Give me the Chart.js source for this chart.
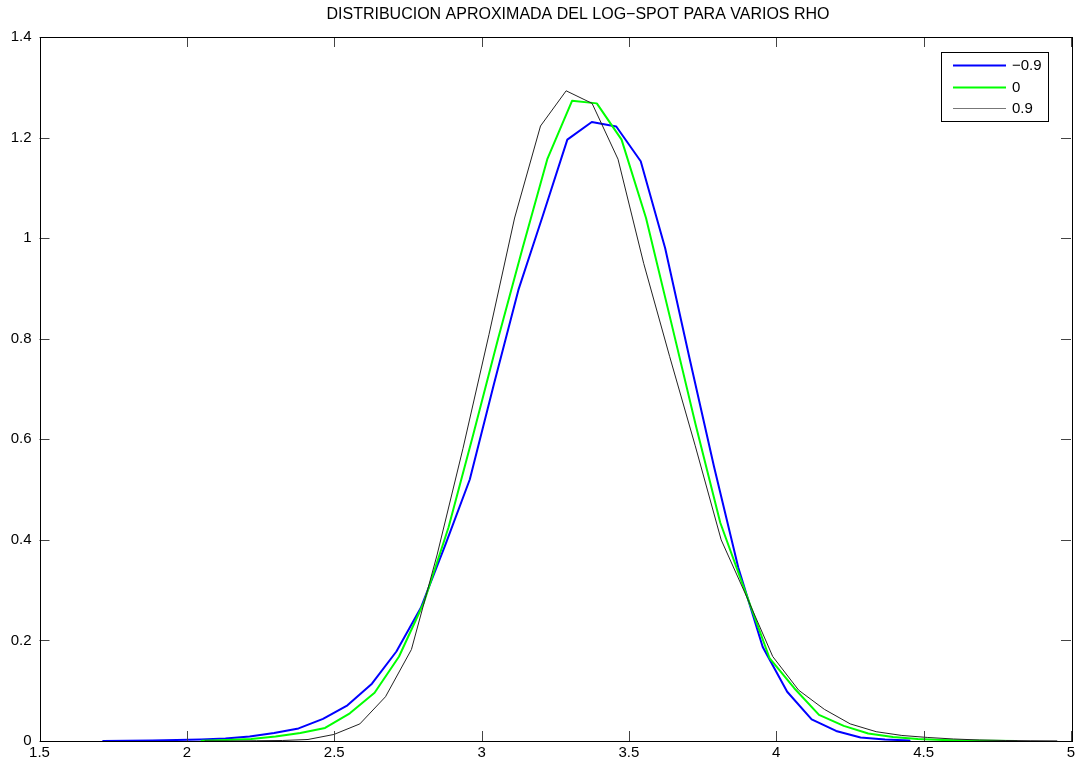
<!DOCTYPE html>
<html>
<head>
<meta charset="utf-8">
<script src="https://cdn.jsdelivr.net/npm/chart.js@4"></script>
<style>
  html, body { margin: 0; padding: 0; background: #fff; }
  #wrap { width: 1079px; height: 765px; }
</style>
</head>
<body>
<div id="wrap"><canvas id="c" width="1079" height="765"></canvas></div>
<script>
// distribución aproximada del log-spot
const chartTitle = 'DISTRIBUCION APROXIMADA DEL LOG\u2212SPOT PARA VARIOS RHO';
const seriesLabels = ['\u22120.9', '0', '0.9'];

const xTicks = [1.5, 2, 2.5, 3, 3.5, 4, 4.5, 5];
const yTicks = [0, 0.2, 0.4, 0.6, 0.8, 1, 1.2, 1.4];

// rho = -0.9
const blueX = [1.716, 1.799, 1.882, 1.965, 2.048, 2.131, 2.213, 2.296, 2.379, 2.462,
  2.545, 2.628, 2.711, 2.794, 2.877, 2.960, 3.042, 3.125, 3.208, 3.291,
  3.374, 3.457, 3.540, 3.623, 3.706, 3.789, 3.871, 3.954, 4.037, 4.120,
  4.203, 4.286, 4.369, 4.452];
const blueY = [0, 0.0005, 0.001, 0.002, 0.003, 0.005, 0.009, 0.016, 0.025, 0.044,
  0.071, 0.114, 0.178, 0.265, 0.39, 0.52, 0.71, 0.897, 1.045, 1.196,
  1.231, 1.222, 1.153, 0.98, 0.76, 0.545, 0.345, 0.187, 0.098, 0.043,
  0.020, 0.007, 0.003, 0.001];

// rho = 0
const greenX = [2.050, 2.134, 2.218, 2.301, 2.385, 2.469, 2.553, 2.637, 2.720, 2.804,
  2.888, 2.972, 3.056, 3.139, 3.223, 3.307, 3.391, 3.475, 3.558, 3.642,
  3.726, 3.810, 3.893, 3.977, 4.061, 4.145, 4.229, 4.312, 4.396, 4.480,
  4.564, 4.648, 4.731, 4.815];
const greenY = [0.0005, 0.002, 0.004, 0.009, 0.016, 0.026, 0.055, 0.096, 0.168, 0.275,
  0.425, 0.61, 0.80, 0.98, 1.157, 1.273, 1.268, 1.196, 1.04, 0.836,
  0.63, 0.434, 0.30, 0.165, 0.105, 0.052, 0.03, 0.015, 0.008, 0.004,
  0.002, 0.001, 0.0005, 0.0002];

// rho = 0.9
const blackX = [2.061, 2.149, 2.236, 2.324, 2.411, 2.499, 2.587, 2.674, 2.762, 2.849,
  2.937, 3.025, 3.112, 3.200, 3.287, 3.375, 3.463, 3.550, 3.638, 3.725,
  3.813, 3.901, 3.988, 4.076, 4.163, 4.251, 4.339, 4.426, 4.514, 4.601,
  4.689, 4.777, 4.864, 4.952];
const blackY = [0, 0, 0.0005, 0.001, 0.003, 0.013, 0.034, 0.088, 0.182, 0.37,
  0.582, 0.808, 1.04, 1.223, 1.293, 1.268, 1.157, 0.95, 0.765, 0.587,
  0.40, 0.285, 0.168, 0.101, 0.063, 0.034, 0.0185, 0.011, 0.007, 0.004,
  0.002, 0.001, 0.0005, 0.0002];

const FONT = '"Liberation Sans", Arial, Helvetica, sans-serif';

function toPoints(xs, ys) {
  return xs.map((x, i) => ({ x: x, y: ys[i] }));
}

// marco, marcas hacia dentro, título y leyenda al estilo MATLAB
const matlabAxes = {
  id: 'matlabAxes',
  afterDatasetsDraw(chart) {
    const { ctx, chartArea: a, scales } = chart;
    const len = 10;
    ctx.save();
    ctx.strokeStyle = '#444';
    ctx.lineWidth = 1;
    ctx.beginPath();
    xTicks.forEach(v => {
      const px = Math.round(scales.x.getPixelForValue(v)) + 0.5;
      ctx.moveTo(px, a.bottom); ctx.lineTo(px, a.bottom - len);
      ctx.moveTo(px, a.top); ctx.lineTo(px, a.top + len);
    });
    yTicks.forEach(v => {
      const py = Math.round(scales.y.getPixelForValue(v)) + 0.5;
      ctx.moveTo(a.left, py); ctx.lineTo(a.left + len, py);
      ctx.moveTo(a.right, py); ctx.lineTo(a.right - len, py);
    });
    ctx.stroke();
    ctx.strokeStyle = '#000';
    ctx.strokeRect(Math.round(a.left) + 0.5, Math.round(a.top) + 0.5,
      Math.round(a.right - a.left), Math.round(a.bottom - a.top));
    ctx.restore();
  },
  afterDraw(chart) {
    const { ctx } = chart;
    ctx.save();
    // título
    ctx.fillStyle = '#000';
    ctx.font = '16px ' + FONT;
    ctx.textAlign = 'center';
    ctx.textBaseline = 'middle';
    ctx.fillText(chartTitle, 578, 15);

    // leyenda
    const bx = 941, by = 52, bw = 107, bh = 69;
    ctx.fillStyle = '#fff';
    ctx.fillRect(bx, by, bw, bh);
    ctx.strokeStyle = '#000';
    ctx.lineWidth = 1;
    ctx.strokeRect(bx + 0.5, by + 0.5, bw, bh);
    ctx.font = '15px ' + FONT;
    ctx.textAlign = 'left';
    chart.data.datasets.forEach((ds, i) => {
      const y = 65 + i * 21.5;
      ctx.strokeStyle = ds.legendColor;
      ctx.lineWidth = ds.borderWidth;
      ctx.beginPath();
      ctx.moveTo(953, Math.round(y) + 0.5);
      ctx.lineTo(1006, Math.round(y) + 0.5);
      ctx.stroke();
      ctx.fillStyle = '#000';
      ctx.fillText(ds.label, 1012, y + 1);
    });
    ctx.restore();
  }
};

new Chart(document.getElementById('c'), {
  type: 'line',
  data: {
    datasets: [
      { label: seriesLabels[0], data: toPoints(blueX, blueY), borderColor: '#0000ff', legendColor: '#0000ff', borderWidth: 2, order: 2 },
      { label: seriesLabels[1], data: toPoints(greenX, greenY), borderColor: '#00ff00', legendColor: '#00ff00', borderWidth: 2, order: 1 },
      { label: seriesLabels[2], data: toPoints(blackX, blackY), borderColor: '#222222', legendColor: '#777777', borderWidth: 1, order: 0 }
    ]
  },
  options: {
    responsive: false,
    animation: false,
    events: [],
    layout: { padding: { top: 37, right: 8, bottom: 0, left: 0 } },
    elements: {
      point: { radius: 0 },
      line: { tension: 0, fill: false, borderCapStyle: 'round', borderJoinStyle: 'round' }
    },
    plugins: {
      legend: { display: false },
      title: { display: false },
      tooltip: { enabled: false }
    },
    scales: {
      x: {
        type: 'linear',
        min: 1.5,
        max: 5,
        afterBuildTicks: (scale) => { scale.ticks = xTicks.map(v => ({ value: v })); },
        afterFit: (scale) => { scale.height = 24; },
        grid: { display: false, drawTicks: false },
        border: { display: false },
        ticks: {
          color: '#000',
          padding: 3,
          maxRotation: 0,
          font: { family: FONT, size: 15 },
          callback: (v) => String(v)
        }
      },
      y: {
        type: 'linear',
        min: 0,
        max: 1.4,
        afterBuildTicks: (scale) => { scale.ticks = yTicks.map(v => ({ value: v })); },
        afterFit: (scale) => { scale.width = 39.5; },
        grid: { display: false, drawTicks: false },
        border: { display: false },
        ticks: {
          color: '#000',
          padding: 8,
          font: { family: FONT, size: 15 },
          callback: (v) => String(+v.toFixed(1))
        }
      }
    }
  },
  plugins: [matlabAxes]
});
</script>
</body>
</html>
